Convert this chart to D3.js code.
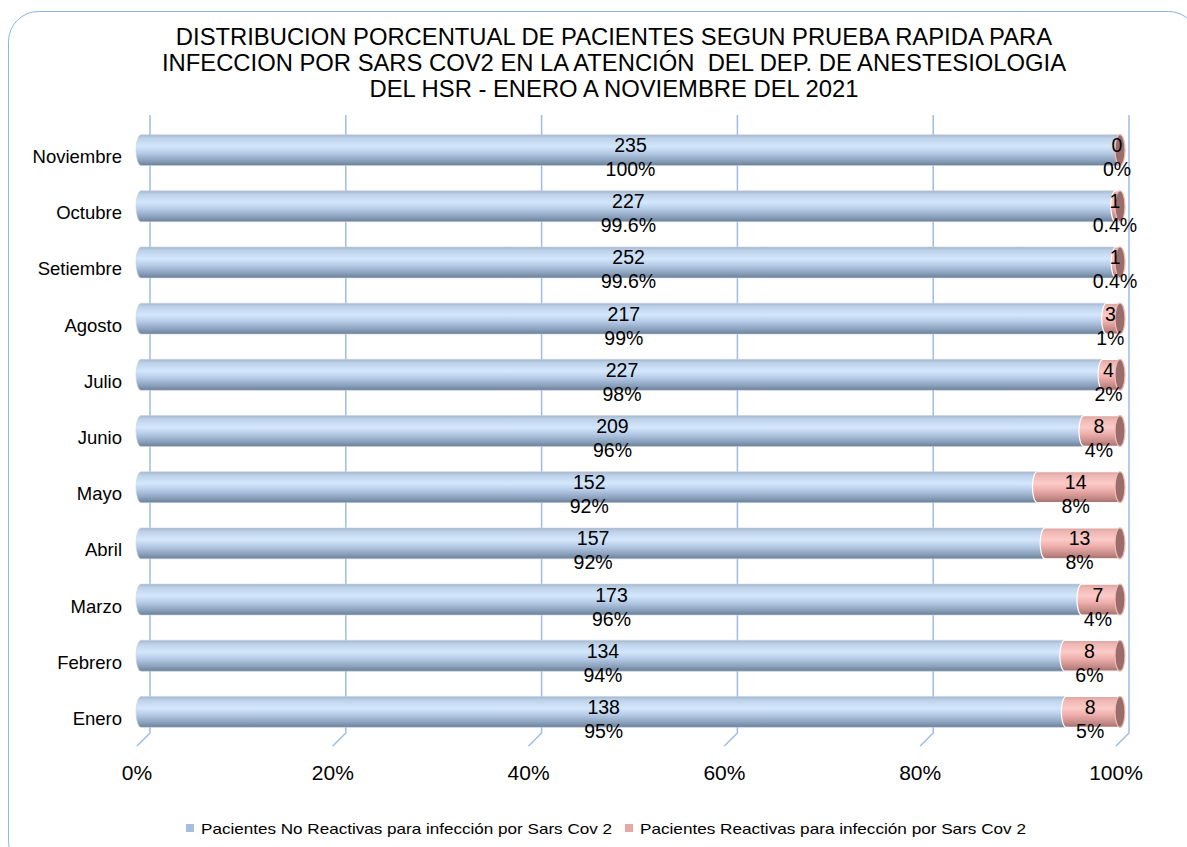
<!DOCTYPE html>
<html>
<head>
<meta charset="utf-8">
<script src="https://cdn.jsdelivr.net/npm/d3@7"></script>
<style>
  body { margin: 0; background: #fff; }
  svg { font-family: "Liberation Sans", Arial, sans-serif; }
  .title { white-space: pre; }
</style>
</head>
<body>
<svg width="1187" height="847"></svg>
<script>
// months, top to bottom as drawn
var months = ["Noviembre", "Octubre", "Setiembre", "Agosto", "Julio", "Junio",
              "Mayo", "Abril", "Marzo", "Febrero", "Enero"];
var noReactivas = [235, 227, 252, 217, 227, 209, 152, 157, 173, 134, 138];
var reactivas = [0, 1, 1, 3, 4, 8, 14, 13, 7, 8, 8];
var ticks = [0, 0.2, 0.4, 0.6, 0.8, 1];
var titleLines = [
  "DISTRIBUCION PORCENTUAL DE PACIENTES SEGUN PRUEBA RAPIDA PARA",
  "INFECCION POR SARS COV2 EN LA ATENCIÓN  DEL DEP. DE ANESTESIOLOGIA",
  "DEL HSR - ENERO A NOVIEMBRE DEL 2021"
];
var seriesNames = ["Pacientes No Reactivas para infección por Sars Cov 2",
                   "Pacientes Reactivas para infección por Sars Cov 2"];

var svg = d3.select("svg");
var width = 1187, height = 847;

var x = d3.scaleLinear().domain([0, 1]).range([141, 1120]);
var y = d3.scaleBand().domain(months).range([122, 740]).paddingInner(0.45).paddingOuter(0.225);
var bh = y.bandwidth(), rx = 5;

var defs = svg.append("defs");
function grad(id, stops) {
  var g = defs.append("linearGradient").attr("id", id)
    .attr("x1", 0).attr("y1", 0).attr("x2", 0).attr("y2", 1);
  stops.forEach(function(s) {
    g.append("stop").attr("offset", s[0]).attr("stop-color", s[1]);
  });
}
grad("gBlue", [[0, "#a4b6cc"], [0.12, "#bdd2ea"], [0.38, "#d4e7fc"], [0.6, "#b4cae6"], [0.85, "#8a9fba"], [1, "#6a7f98"]]);
grad("gRed", [[0, "#d8a3a0"], [0.12, "#eeb6b3"], [0.38, "#fccbc8"], [0.6, "#eeaeab"], [0.85, "#c48a87"], [1, "#a46f6c"]]);

// chart border
svg.append("rect")
  .attr("x", 8.5).attr("y", 11.5).attr("width", 1190).attr("height", 860)
  .attr("rx", 30).attr("ry", 30)
  .attr("fill", "none").attr("stroke", "#8db3e2").attr("stroke-width", 1);

// title
svg.append("text").attr("class", "title")
  .attr("text-anchor", "middle").attr("font-size", 23.8).attr("fill", "#000")
  .selectAll("tspan").data(titleLines).enter().append("tspan")
  .attr("x", 614).attr("y", function(d, i) { return 45 + i * 26; })
  .text(function(d) { return d; });

// gridlines with floor diagonals
var grid = svg.append("g").attr("fill", "none").attr("stroke", "#9ebde6").attr("stroke-width", 1.5);
grid.selectAll("path").data(ticks).enter().append("path")
  .attr("d", function(d) {
    var gx = x(d) + 9;
    return "M" + gx + ",115 L" + gx + ",733 L" + (gx - 13) + ",746";
  });

// tick labels
svg.append("g").selectAll("text").data(ticks).enter().append("text")
  .attr("x", function(d) { return x(d) - 4; })
  .attr("y", 780)
  .attr("text-anchor", "middle").attr("font-size", 21)
  .text(d3.format(".0%"));

// category labels
svg.append("g").selectAll("text").data(months).enter().append("text")
  .attr("x", 122)
  .attr("y", function(d) { return y(d) + bh / 2 + 13; })
  .attr("text-anchor", "end").attr("font-size", 18.5)
  .text(function(d) { return d; });

var rows = months.map(function(m, i) {
  var total = noReactivas[i] + reactivas[i];
  return {month: m, a: noReactivas[i], b: reactivas[i], pa: noReactivas[i] / total, pb: reactivas[i] / total};
});

function cyl(x0, x1, top) {
  var bot = top + bh;
  return "M" + x0 + "," + top + " L" + x1 + "," + top +
    " A" + rx + "," + (bh / 2) + " 0 0 1 " + x1 + "," + bot +
    " L" + x0 + "," + bot +
    " A" + rx + "," + (bh / 2) + " 0 0 1 " + x0 + "," + top + "Z";
}

var bars = svg.append("g").selectAll("g").data(rows).enter().append("g");
bars.append("path")
  .attr("d", function(d) { return cyl(x(0), x(d.pa), y(d.month)); })
  .attr("fill", "url(#gBlue)")
  .attr("stroke", "#c9d3df").attr("stroke-width", 0.6);
bars.append("path")
  .attr("d", function(d) { return cyl(x(d.pa), x(1), y(d.month)); })
  .attr("fill", "url(#gRed)")
  .attr("stroke", function(d) { return d.b > 0 ? "#fff" : "none"; })
  .attr("stroke-width", 1.2);
bars.append("ellipse")
  .attr("cx", x(1)).attr("cy", function(d) { return y(d.month) + bh / 2; })
  .attr("rx", rx).attr("ry", bh / 2)
  .attr("fill", "#9a6d6a").attr("stroke", "#efbcb9").attr("stroke-width", 1.2);

function pct(p) {
  var r = Math.round(p * 100);
  if ((r === 0 && p > 0) || (r === 100 && p < 1)) return d3.format(".1%")(p);
  return d3.format(".0%")(p);
}

function labels(getX, getV, getP) {
  var g = svg.append("g").attr("text-anchor", "middle").attr("font-size", 19.5);
  g.selectAll("text.v").data(rows).enter().append("text").attr("class", "v")
    .attr("x", getX).attr("y", function(d) { return y(d.month) + bh / 2 + 2; })
    .text(getV);
  g.selectAll("text.p").data(rows).enter().append("text").attr("class", "p")
    .attr("x", getX).attr("y", function(d) { return y(d.month) + bh / 2 + 26; })
    .text(getP);
}
labels(function(d) { return (x(0) + x(d.pa)) / 2; }, function(d) { return d.a; }, function(d) { return pct(d.pa); });
labels(function(d) { return (x(d.pa) + x(1)) / 2 - 3; }, function(d) { return d.b; }, function(d) { return pct(d.pb); });

// legend
var legend = svg.append("g").attr("font-size", 15);
var lx = [186, 625], lw = [411, 386];
seriesNames.forEach(function(n, i) {
  legend.append("rect").attr("x", lx[i]).attr("y", 824).attr("width", 8).attr("height", 8)
    .attr("fill", i === 0 ? "#a7bfdf" : "#e8a6a4");
  legend.append("text").attr("x", lx[i] + 15).attr("y", 833.5)
    .attr("textLength", lw[i]).attr("lengthAdjust", "spacingAndGlyphs")
    .text(n);
});
</script>
</body>
</html>
